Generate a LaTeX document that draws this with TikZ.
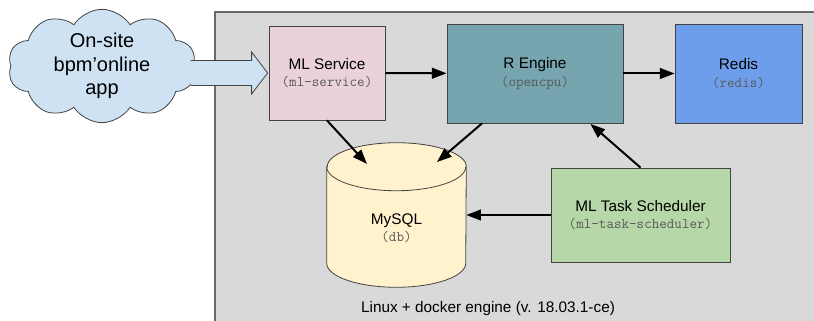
\documentclass[tikz,border=0pt]{standalone}
\usepackage{fontspec}
\setmainfont{Liberation Sans}
\usepackage{xcolor}
\usetikzlibrary{arrows.meta, positioning, shapes.geometric, shapes.symbols, calc}

\definecolor{hostgray}{HTML}{D9D9D9}
\definecolor{edgegray}{HTML}{434343}
\definecolor{codegray}{HTML}{595959}
\definecolor{svcpink}{HTML}{EAD1DC}
\definecolor{engteal}{HTML}{76A5AF}
\definecolor{redisblue}{HTML}{6D9EEB}
\definecolor{dbyellow}{HTML}{FFF2CC}
\definecolor{schedgreen}{HTML}{B6D7A8}
\definecolor{cloudblue}{HTML}{CFE2F3}

\newcommand{\svcname}[2]{{\fontsize{11.5}{14}\selectfont #1}\\[1pt]{\fontsize{11}{12}\selectfont\ttfamily\color{codegray}#2}}

\begin{document}
\begin{tikzpicture}[
  x=0.75pt, y=-0.75pt,
  box/.style={rectangle, draw=edgegray, line width=0.6pt, align=center,
              inner sep=0pt},
  arr/.style={-{Triangle[length=11pt, width=8pt]}, line width=1.5pt, black},
  blockarr/.style={draw=edgegray, line width=0.6pt, fill=cloudblue, line join=miter},
  dbcap/.style={x radius=52.125pt, y radius=18pt}
]
\useasboundingbox (0,0) rectangle (814,321);
% docker host
\draw[draw=edgegray!80, line width=0.8pt, fill=hostgray] (215,12) rectangle (830,335);
\node[font=\fontsize{11.5}{14}\selectfont] (host) at (488,309) {Linux + docker engine (v. 18.03.1-ce)};

% containers
\node[box, fill=svcpink, minimum width=87pt, minimum height=70.5pt]
  (svc) at (327,73) {\svcname{ML Service}{(ml-service)}};
\node[box, fill=engteal, minimum width=132pt, minimum height=74.25pt]
  (reng) at (535,73.5) {\svcname{R Engine}{(opencpu)}};
\node[box, fill=redisblue, minimum width=95.25pt, minimum height=74.25pt]
  (redis) at (738.5,73.5) {\svcname{Redis}{(redis)}};
\node[box, fill=schedgreen, minimum width=134.25pt, minimum height=70.5pt]
  (sched) at (640.5,215) {\svcname{ML Task Scheduler}{(ml-task-scheduler)}};

% database cylinder
\node[inner sep=0pt, minimum width=104.25pt, minimum height=108pt] (db) at (396.5,215) {};
\filldraw[draw=edgegray, line width=0.6pt, fill=dbyellow]
  ($(db.north west)+(0,24)$) -- ($(db.south west)+(0,-24)$)
  arc[start angle=180, end angle=360, dbcap]
  -- ($(db.north east)+(0,24)$)
  arc[start angle=0, end angle=180, dbcap] -- cycle;
\draw[draw=edgegray, line width=0.6pt]
  ($(db.north west)+(0,24)$) arc[start angle=180, end angle=360, dbcap];
\node[align=center, inner sep=0pt] (dblabel) at ($(db.center)+(0,13)$) {\svcname{MySQL}{(db)}};

% client
\node[cloud, cloud puffs=10, cloud puff arc=115, aspect=1.6, draw=edgegray, line width=0.6pt,
      fill=cloudblue, minimum width=141pt, minimum height=85pt, inner sep=0pt, align=center,
      font=\fontsize{15}{17.6}\selectfont]
  (cloud) at (102,66) {On-site\\bpm’online\\app};

\coordinate (tail) at ($(cloud.east |- svc.west)+(-3,0)$);
\draw[blockarr] ($(tail)+(0,-12.5)$) -- ($(svc.west)+(-17,-12.5)$)
  -- ($(svc.west)+(-17,-21)$) -- ($(svc.west)+(-1,0)$)
  -- ($(svc.west)+(-17,21)$) -- ($(svc.west)+(-17,12.5)$)
  -- ($(tail)+(0,12.5)$);

\draw[arr] (svc) -- (reng);
\draw[arr] (reng) -- (redis);
\draw[arr] (svc.south) -- ($(db.center)+(-29.5,-51)$);
\draw[arr] ($(reng.south)+(-53,0)$) -- ($(db.center)+(40.5,-53)$);
\draw[arr] (sched.north) -- ($(reng.south east)+(-33,0.5)$);
\draw[arr] (sched.west) -- (sched.west -| db.east);
\end{tikzpicture}
\end{document}
